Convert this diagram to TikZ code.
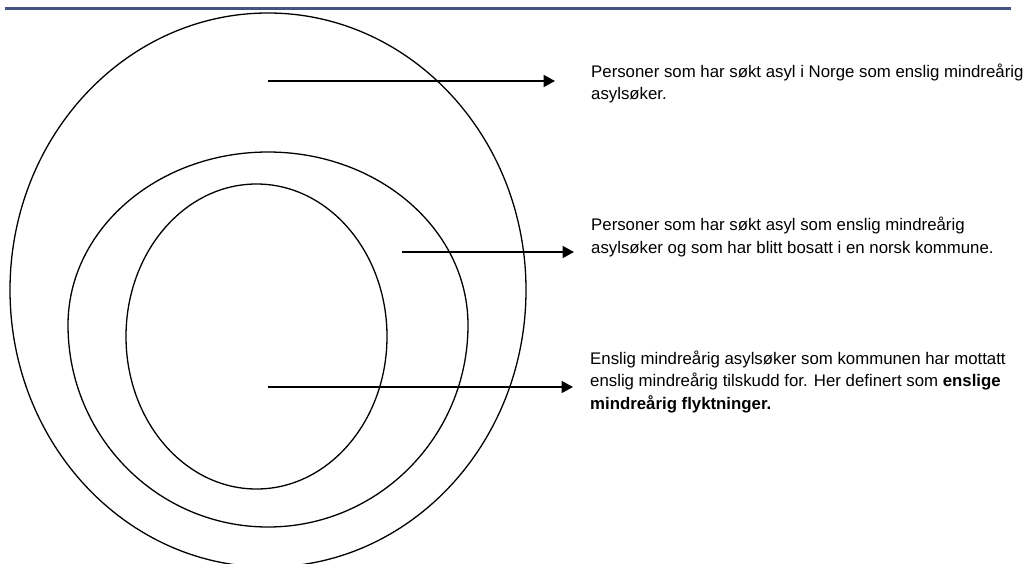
\documentclass[tikz,border=0pt]{standalone}
\usepackage{fontspec}
\setmainfont{Liberation Sans}
\usetikzlibrary{arrows.meta}
\definecolor{rulecol}{RGB}{66,85,128}
\tikzset{
  ring/.style={line width=1.3pt, draw=black},
  pointer/.style={line width=2pt, -{Triangle[length=11.5pt,width=12pt]}},
  txt/.style={anchor=base west, inner sep=0pt, font=\fontsize{16.8pt}{22pt}\selectfont}
}
\begin{document}
\begin{tikzpicture}[x=1pt,y=-1pt]
\useasboundingbox (0,0) rectangle (1030,563);
\fill[white] (0,0) rectangle (1030,563);
\clip (0,0) rectangle (1030,563);
% top rule
\draw[rulecol, line width=2.8pt] (5,8.3) -- (1011,8.3);
% rings
\draw[ring] (268,290) ellipse [x radius=258, y radius=277];
\draw[ring] (68,325) arc[start angle=180, end angle=360, x radius=200, y radius=173]
            arc[start angle=0, end angle=180, x radius=200, y radius=202];
\draw[ring] (256.5,336.5) ellipse [x radius=130.5, y radius=152.5];
% arrow end points
\coordinate (a1s) at (268,81);   \coordinate (a1e) at (555,81);
\coordinate (a2s) at (402,252);  \coordinate (a2e) at (574,252);
\coordinate (a3s) at (268,387);  \coordinate (a3e) at (573,387);
\draw[pointer] (a1s) -- (a1e);
\draw[pointer] (a2s) -- (a2e);
\draw[pointer] (a3s) -- (a3e);
% texts
\node[txt] (t1a) at (591,77.3) {Personer som har søkt asyl i Norge som enslig mindreårig};
\node[txt] (t1b) at (591,99.3) {asylsøker.};
\node[txt] (t2a) at (591,230.7) {Personer som har søkt asyl som enslig mindreårig};
\node[txt] (t2b) at (591,253) {asylsøker og som har blitt bosatt i en norsk kommune.};
\node[txt] (t3a) at (590,364.3) {Enslig mindreårig asylsøker som kommunen har mottatt};
\node[txt] (t3b) at (590,386.7) {enslig mindreårig tilskudd for. Her definert som \textbf{enslige}};
\node[txt] (t3c) at (590,409) {\textbf{mindreårig flyktninger.}};
\end{tikzpicture}
\end{document}
